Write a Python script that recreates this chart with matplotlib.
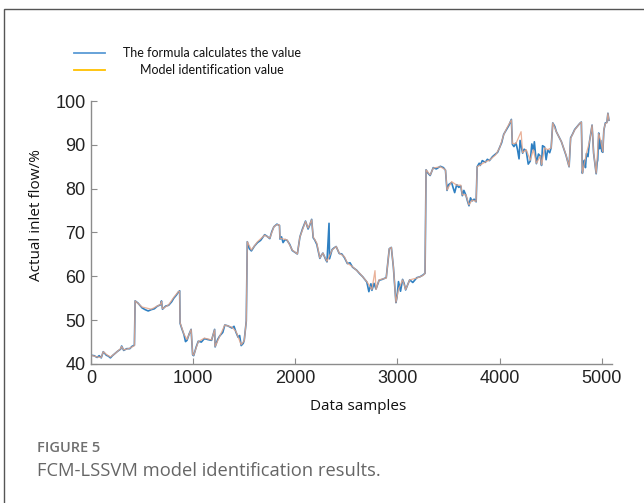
import matplotlib.pyplot as plt
from matplotlib.lines import Line2D
from matplotlib.patches import Rectangle

# model identification value (orange)
model_x = [0, 60, 100, 120, 150, 190, 230, 290, 300, 320, 380, 425, 432, 500, 590, 680, 690, 700,
           760, 810, 855, 868, 872, 910, 940, 980, 995, 1005, 1050, 1110, 1180, 1210, 1215, 1260,
           1310, 1380, 1420, 1470, 1500, 1520, 1530, 1570, 1630, 1700, 1750, 1790, 1820, 1845,
           1850, 1920, 1970, 2020, 2045, 2100, 2125, 2160, 2175, 2210, 2240, 2270, 2310, 2360,
           2400, 2430, 2480, 2510, 2560, 2630, 2700, 2750, 2780, 2790, 2820, 2890, 2920, 2940,
           2960, 2985, 3010, 3050, 3080, 3120, 3190, 3250, 3270, 3280, 3320, 3350, 3420, 3470,
           3485, 3530, 3580, 3620, 3635, 3670, 3700, 3730, 3770, 3780, 3810, 3860, 3900, 3960,
           4000, 4040, 4070, 4115, 4125, 4160, 4210, 4225, 4260, 4300, 4330, 4360, 4400, 4410,
           4440, 4470, 4505, 4520, 4555, 4605, 4650, 4680, 4695, 4735, 4785, 4800, 4810, 4850,
           4880, 4905, 4920, 4945, 4970, 4990, 5010, 5020, 5035, 5050, 5060, 5070]
model_y = [42.0, 41.6, 41.5, 42.8, 42.2, 41.6, 42.3, 43.5, 44.0, 43.2, 43.6, 44.2, 54.4, 53.0,
           52.5, 53.6, 54.3, 52.6, 53.5, 55.2, 56.5, 56.6, 49.4, 46.8, 45.6, 47.9, 42.2, 42.0,
           45.1, 45.9, 45.5, 47.8, 44.0, 46.3, 48.9, 48.4, 47.4, 44.4, 45.3, 49.8, 67.9, 66.0,
           67.9, 69.4, 68.7, 71.3, 71.8, 71.7, 68.7, 68.3, 66.0, 65.1, 69.0, 72.5, 71.0, 72.9,
           69.0, 67.6, 64.2, 65.3, 63.4, 66.0, 66.8, 65.3, 64.5, 63.0, 62.2, 60.7, 58.8, 57.0,
           61.3, 57.0, 59.2, 59.6, 66.3, 66.6, 62.2, 54.0, 57.0, 59.2, 57.0, 59.2, 59.6, 60.2,
           60.7, 84.3, 83.1, 84.7, 85.0, 84.3, 79.7, 81.6, 80.8, 80.8, 78.6, 78.6, 76.3, 77.4,
           77.1, 85.0, 85.4, 86.1, 86.5, 87.7, 89.3, 92.3, 93.8, 95.7, 90.3, 90.3, 93.0, 88.2,
           88.9, 86.5, 88.9, 85.8, 87.5, 85.4, 89.3, 88.9, 89.3, 95.0, 93.0, 90.7, 87.7, 85.0,
           91.5, 93.4, 94.9, 95.2, 83.5, 88.1, 90.7, 94.5, 88.2, 83.5, 92.6, 90.9, 88.4, 93.4,
           94.9, 95.0, 97.2, 95.6]

# formula calculated value (blue), noisier around the model line
formula_x = [0, 30, 60, 80, 100, 120, 135, 150, 170, 190, 210, 230, 260, 290, 300, 320, 350, 380,
             400, 425, 432, 460, 500, 530, 560, 590, 620, 650, 680, 690, 700, 730, 760, 790, 810,
             835, 855, 868, 872, 890, 910, 925, 940, 960, 980, 995, 1005, 1030, 1050, 1080, 1110,
             1140, 1180, 1210, 1215, 1240, 1260, 1290, 1310, 1340, 1380, 1400, 1420, 1440, 1455,
             1470, 1490, 1500, 1520, 1530, 1550, 1570, 1600, 1630, 1660, 1700, 1725, 1750, 1770,
             1790, 1820, 1845, 1850, 1865, 1880, 1900, 1920, 1945, 1970, 2020, 2045, 2070, 2100,
             2125, 2140, 2160, 2175, 2190, 2210, 2240, 2255, 2270, 2290, 2300, 2310, 2330, 2335,
             2360, 2380, 2400, 2430, 2455, 2480, 2510, 2535, 2560, 2600, 2630, 2660, 2700, 2720,
             2740, 2750, 2770, 2790, 2820, 2850, 2890, 2920, 2940, 2960, 2985, 2995, 3010, 3030,
             3050, 3065, 3080, 3100, 3120, 3150, 3190, 3220, 3250, 3270, 3280, 3300, 3320, 3350,
             3380, 3420, 3450, 3470, 3485, 3500, 3530, 3545, 3560, 3580, 3600, 3620, 3635, 3650,
             3670, 3685, 3700, 3715, 3730, 3750, 3770, 3780, 3800, 3810, 3830, 3860, 3880, 3900,
             3930, 3960, 3980, 4000, 4020, 4040, 4070, 4090, 4115, 4125, 4140, 4160, 4175, 4190,
             4200, 4225, 4240, 4260, 4280, 4300, 4315, 4330, 4340, 4360, 4380, 4400, 4410, 4420,
             4440, 4455, 4470, 4490, 4505, 4520, 4540, 4555, 4605, 4650, 4680, 4695, 4715, 4735,
             4760, 4785, 4800, 4810, 4820, 4830, 4840, 4850, 4865, 4880, 4905, 4920, 4945, 4955,
             4960, 4970, 4980, 4990, 5000, 5010, 5020, 5035, 5050, 5060, 5070]
formula_y = [42.0, 41.9, 41.5, 41.9, 41.4, 42.8, 42.4, 42.0, 41.8, 41.4, 41.9, 42.3, 42.9, 43.4,
             44.1, 43.1, 43.5, 43.5, 44.0, 44.3, 54.4, 53.9, 52.8, 52.4, 52.1, 52.4, 52.6, 53.2,
             53.5, 54.4, 52.5, 53.2, 53.4, 54.2, 55.0, 55.7, 56.4, 56.7, 49.3, 48.0, 46.7, 45.1,
             45.4, 46.8, 47.9, 42.1, 41.9, 43.9, 45.2, 45.0, 45.8, 45.6, 45.4, 47.9, 43.9, 45.6,
             46.4, 47.2, 48.9, 48.7, 48.2, 48.6, 47.2, 46.1, 46.5, 44.2, 44.7, 45.4, 49.8, 67.9,
             66.3, 65.8, 66.9, 67.7, 68.2, 69.5, 69.1, 68.6, 70.2, 71.3, 71.9, 71.6, 68.5, 69.0,
             67.7, 68.4, 68.2, 67.3, 65.9, 65.1, 69.0, 70.8, 72.6, 70.8, 71.6, 73.0, 68.8, 68.3,
             67.3, 64.1, 64.8, 65.3, 64.2, 63.7, 63.3, 72.1, 64.0, 66.1, 66.5, 66.8, 65.2, 65.1,
             64.3, 62.9, 63.1, 62.1, 61.4, 60.6, 59.9, 58.7, 56.5, 58.3, 56.8, 58.4, 57.1, 59.1,
             59.3, 59.7, 66.3, 66.6, 62.1, 54.0, 55.2, 58.8, 56.6, 59.3, 58.4, 56.9, 58.1, 59.2,
             58.6, 59.7, 59.9, 60.3, 60.7, 84.3, 83.5, 83.0, 84.8, 84.5, 85.1, 84.8, 84.2, 79.6,
             80.9, 81.4, 80.2, 79.1, 80.9, 80.3, 80.6, 78.4, 79.6, 78.5, 77.2, 76.1, 77.9, 77.2,
             77.6, 77.0, 85.0, 85.8, 85.3, 86.4, 86.0, 86.7, 86.4, 87.3, 87.9, 88.3, 89.4, 90.5,
             92.4, 93.6, 94.4, 95.8, 90.1, 89.6, 90.4, 88.9, 86.8, 91.0, 88.1, 89.0, 88.7, 85.6,
             86.3, 90.2, 88.8, 90.7, 85.7, 87.9, 87.4, 85.3, 89.8, 89.5, 86.6, 88.8, 88.2, 89.4,
             95.0, 94.2, 93.0, 90.7, 87.6, 85.0, 91.6, 92.5, 93.5, 94.2, 94.9, 95.2, 83.5, 85.6,
             86.5, 84.8, 88.0, 87.3, 90.8, 94.5, 88.1, 83.4, 86.0, 86.5, 92.7, 89.1, 91.0, 88.5,
             88.3, 93.3, 95.0, 95.1, 97.2, 95.6]

x_ticks = [0, 1000, 2000, 3000, 4000, 5000]
y_ticks = [40, 50, 60, 70, 80, 90, 100]

fig = plt.figure(figsize=(6.44, 5.03), dpi=100)
W, H = 644, 503

# outer frame of the figure panel
fig.add_artist(Rectangle((4 / W, -0.1), 1.2, 1.1 - 9 / H, transform=fig.transFigure,
                         fill=False, edgecolor='#555555', linewidth=1.0))

ax = fig.add_axes([91 / W, (H - 364) / H, (612 - 91) / W, (364 - 101) / H])
ax.plot(formula_x, formula_y, color='#2f80c2', linewidth=1.2)
ax.plot(model_x, model_y, color='#e6a487', linewidth=0.9, alpha=0.85)

ax.set_xlim(0, 5100)
ax.set_ylim(40, 100)
ax.set_xticks(x_ticks)
ax.set_yticks(y_ticks)
for s in ['top', 'right']:
    ax.spines[s].set_visible(False)
for s in ['left', 'bottom']:
    ax.spines[s].set_color('#8c8c8c')
    ax.spines[s].set_linewidth(1.0)
ax.tick_params(direction='in', length=4, color='#8c8c8c', width=0.8,
               labelsize=13, labelcolor='#222222', pad=4)
for lab in ax.get_xticklabels() + ax.get_yticklabels():
    lab.set_family('Liberation Sans')

fig.text(37 / W, 1 - 215 / H, 'Actual inlet flow/%', rotation=90, ha='center', va='center',
         fontsize=11, family='Open Sans', color='#111111')
fig.text(358 / W, 1 - 407 / H, 'Data samples', ha='center', va='center',
         fontsize=11, family='Open Sans', color='#111111')

# legend drawn above the axes
fig.add_artist(Line2D([74 / W, 105 / W], [1 - 53 / H, 1 - 53 / H], color='#5b9bd5', linewidth=1.3))
fig.add_artist(Line2D([74 / W, 105 / W], [1 - 70 / H, 1 - 70 / H], color='#ffc000', linewidth=1.3))
fig.text(212 / W, 1 - 53 / H, 'The formula calculates the value', ha='center', va='center',
         fontsize=9.0, family='Lato', color='#111111')
fig.text(212 / W, 1 - 70 / H, 'Model identification value', ha='center', va='center',
         fontsize=9.0, family='Lato', color='#111111')

# caption
fig.text(37 / W, 1 - 448 / H, 'FIGURE 5', ha='left', va='center', fontsize=10.5,
         family='Open Sans', fontweight='semibold', color='#707070')
fig.text(37 / W, 1 - 471 / H, 'FCM-LSSVM model identification results.', ha='left', va='center',
         fontsize=13.2, family='Open Sans', color='#666666')

fig.savefig('out.png', dpi=100)
